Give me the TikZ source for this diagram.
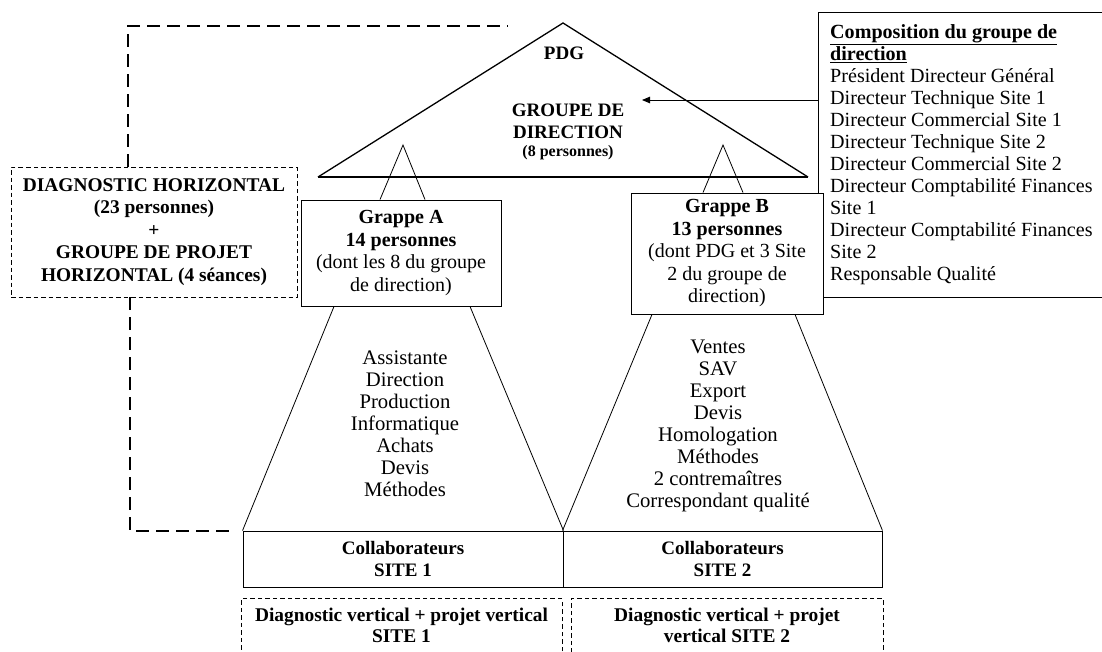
\documentclass[tikz,border=0pt]{standalone}
\usepackage{fontspec}
\setmainfont{Liberation Serif}
\usetikzlibrary{calc, positioning, arrows.meta}
\tikzstyle{grappebox}=[draw, fill=white, line width=0.9pt, align=center, inner sep=0pt, font=\fontsize{20}{22.5}\selectfont]
\tikzstyle{collabbox}=[draw, line width=0.9pt, align=center, inner sep=0pt, minimum height=56pt, font=\fontsize{19}{21.5}\selectfont\bfseries]
\tikzstyle{vertbox}=[draw, dash pattern=on 4.5pt off 3pt, line width=0.7pt, align=center, inner sep=0pt, minimum height=54pt, font=\fontsize{19.4}{21}\selectfont\bfseries]
\tikzstyle{hzbox}=[draw, dash pattern=on 4.5pt off 3pt, line width=0.7pt, align=center, inner sep=0pt, font=\fontsize{19.4}{22.5}\selectfont\bfseries]
\tikzstyle{compobox}=[anchor=north west, align=flush left, text width=290pt, inner xsep=12pt, inner ysep=0pt, minimum height=285pt, font=\fontsize{20.1}{22}\selectfont]
\tikzstyle{listnode}=[align=center, font=\fontsize{20.7}{22}\selectfont]
\tikzstyle{linkdash}=[dash pattern=on 13pt off 7pt, line width=1.8pt]
\tikzstyle{trapeze}=[line width=0.8pt]

\begin{document}
\begin{tikzpicture}[x=1pt, y=-1pt]
	\path[use as bounding box, clip] (0,0) rectangle (1102,651);
	\coordinate (apex) at (563,23);
	\coordinate (tl) at (318,177);
	\coordinate (tr) at (808,177);
	\draw[line width=1.3pt] (tl) -- (apex) -- (tr);
	\draw[line width=2.2pt] (tl) -- (tr);
	\node[font=\fontsize{19}{22}\selectfont\bfseries] (pdg) at (564,53) {PDG};
	\node[align=center, font=\fontsize{19}{22}\selectfont\bfseries] (dirgroup) at (568,121) {GROUPE DE\\DIRECTION};
	\node[font=\fontsize{16}{18}\selectfont\bfseries] (dircount) at (568,153) {(8 personnes)};

	\node[compobox] (compo) at (818,12) {\textbf{\underline{Composition du groupe de}}\\\textbf{\underline{direction}}\\Président Directeur Général\\Directeur Technique Site 1\\Directeur Commercial Site 1\\Directeur Technique Site 2\\Directeur Commercial Site 2\\Directeur Comptabilité Finances\\Site 1\\Directeur Comptabilité Finances\\Site 2\\Responsable Qualité};
	\draw[line width=0.9pt] (compo.north east) -- (compo.north west) -- (compo.south west) -- (compo.south east);
	\coordinate (dirtip) at (642,100);
	\draw[-{Triangle[length=8pt,width=6.5pt]}, line width=0.9pt] (dirtip -| compo.west) -- (dirtip);

	\node[grappebox, minimum width=200pt, minimum height=106pt] (grappeA) at (401,253) {\textbf{Grappe A}\\\textbf{14 personnes}\\(dont les 8 du groupe\\de direction)};
	\node[grappebox, minimum width=192pt, minimum height=121pt] (grappeB) at (727,253.5) {\textbf{Grappe B}\\\textbf{13 personnes}\\(dont PDG et 3 Site\\2 du groupe de\\direction)};
	\coordinate (peakA) at (403,145);
	\coordinate (peakB) at (723,145);
	\draw[trapeze] ($(grappeA.north)+(-21,0)$) -- (peakA) -- ($(grappeA.north)+(24,0)$);
	\draw[trapeze] ($(grappeB.north)+(-24,0)$) -- (peakB) -- ($(grappeB.north)+(16,0)$);

	\node[collabbox, minimum width=320pt] (collab1) at (403,559) {Collaborateurs\\SITE 1};
	\node[collabbox, minimum width=319pt] (collab2) at (722.5,559) {Collaborateurs\\SITE 2};
	\draw[trapeze] ($(grappeA.south)+(-67,0)$) -- (collab1.north west);
	\draw[trapeze] ($(grappeA.south)+(69,0)$) -- (collab1.north east);
	\draw[trapeze] ($(grappeB.south)+(-75,0)$) -- (collab2.north west);
	\draw[trapeze] ($(grappeB.south)+(68,0)$) -- (collab2.north east);
	\node[listnode] (listA) at (405,424) {Assistante\\Direction\\Production\\Informatique\\Achats\\Devis\\Méthodes};
	\node[listnode] (listB) at (718,426) {Ventes\\SAV\\Export\\Devis\\Homologation\\Méthodes\\2 contremaîtres\\Correspondant qualité};

	\node[vertbox, minimum width=321pt, below=11pt of collab1, xshift=-1.5pt] (vert1) {Diagnostic vertical + projet vertical\\SITE 1};
	\node[vertbox, minimum width=312pt, below=11pt of collab2, xshift=4.5pt] (vert2) {Diagnostic vertical + projet\\vertical SITE 2};

	\node[hzbox, minimum width=286pt, minimum height=130pt] (diaghz) at (154,232) {DIAGNOSTIC HORIZONTAL\\(23 personnes)\\+\\GROUPE DE PROJET\\HORIZONTAL (4 séances)};
	\coordinate (hzcorner) at (128,26);
	\coordinate (hzend) at (508,26);
	\coordinate (lowcorner) at (130,531);
	\draw[linkdash] (diaghz.north -| hzcorner) -- (hzcorner) -- (hzend);
	\draw[linkdash] (diaghz.south -| lowcorner) -- (lowcorner) -- ($(collab1.west |- lowcorner)+(-11,0)$);
\end{tikzpicture}
\end{document}
